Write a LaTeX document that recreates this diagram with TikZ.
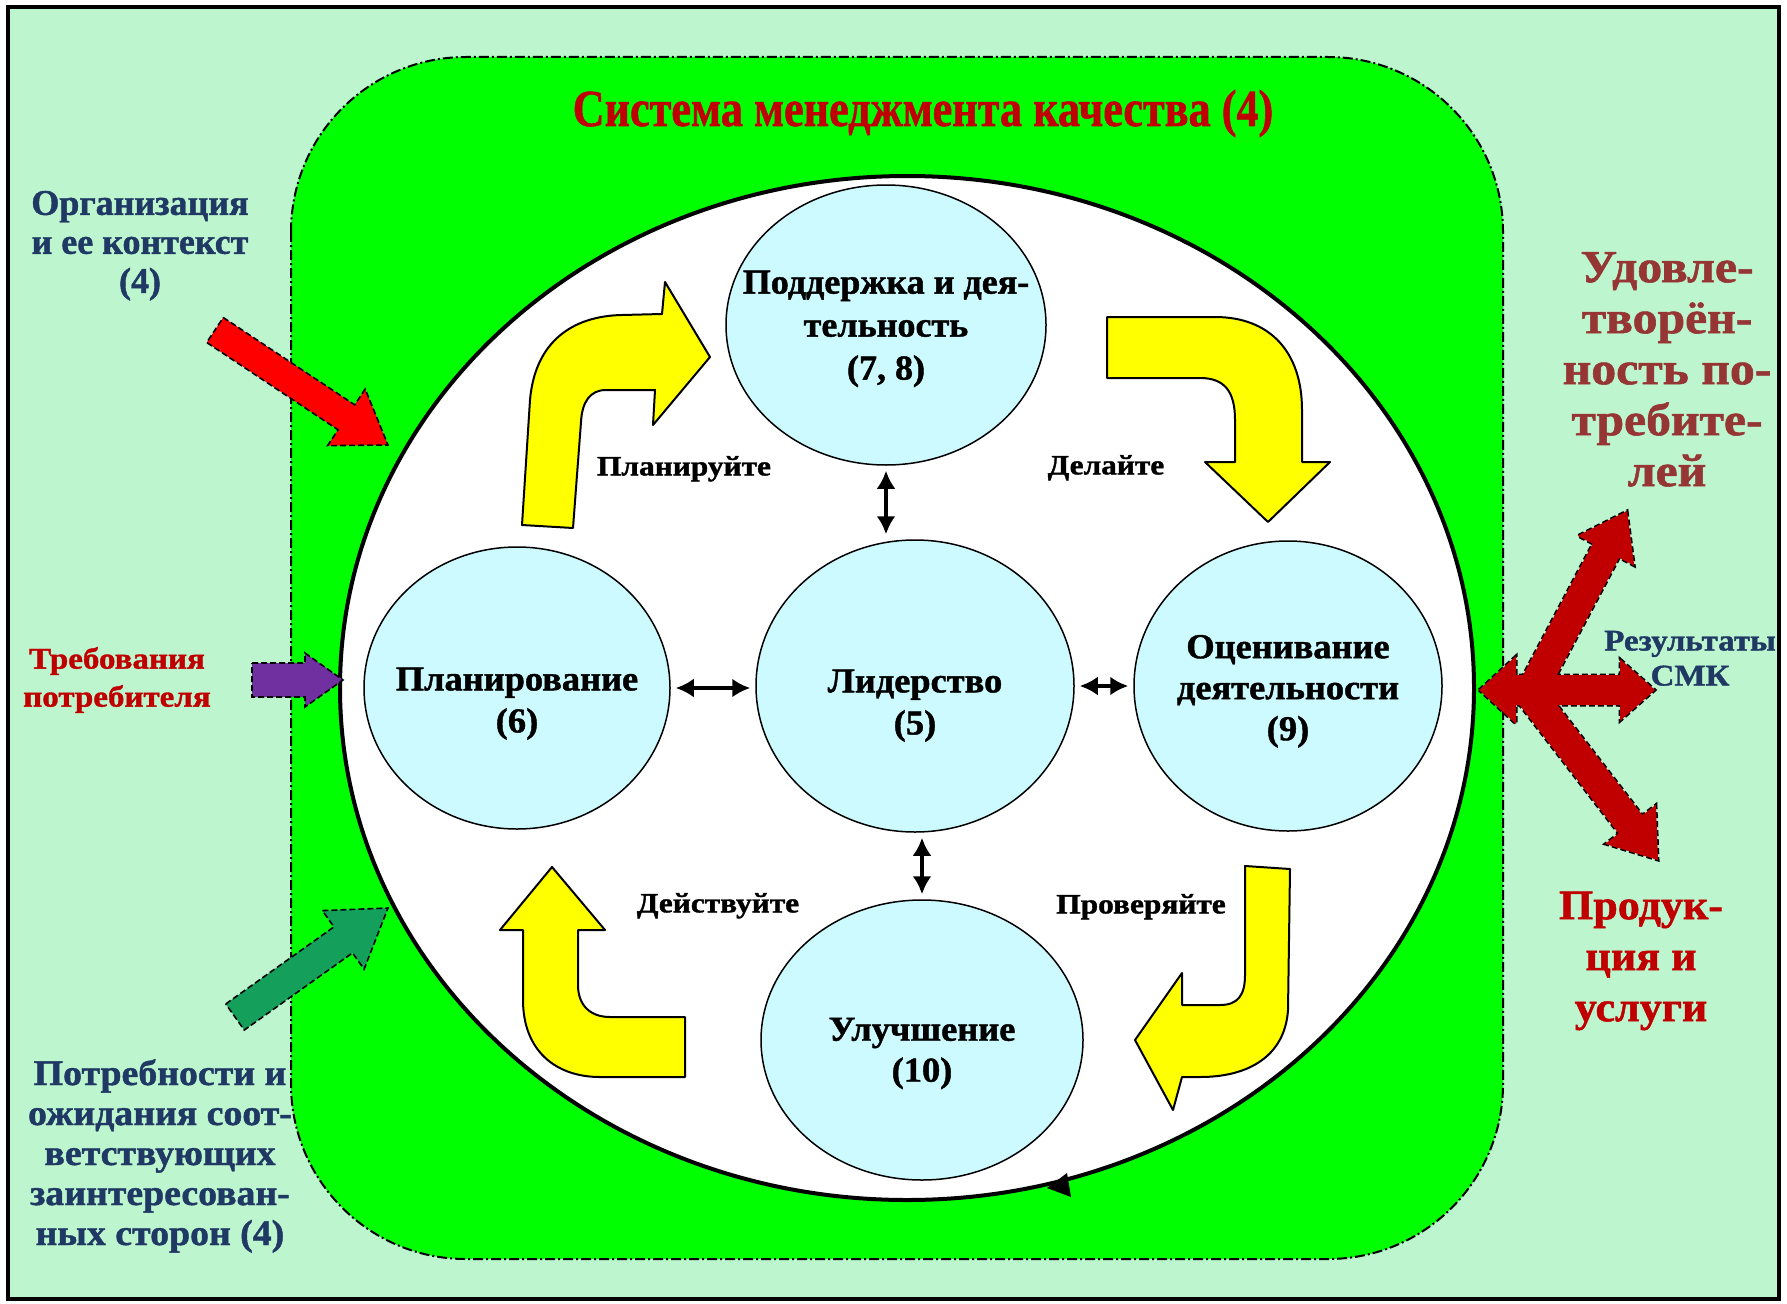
\documentclass[tikz,border=0pt]{standalone}
\usepackage{fontspec}
\setmainfont{Liberation Serif}[BoldFeatures={FakeBold=1.2}]
\usetikzlibrary{arrows.meta,shapes.geometric,calc}
\definecolor{bgmint}{RGB}{189,245,206}
\definecolor{brightgreen}{RGB}{0,255,0}
\definecolor{cyanc}{RGB}{204,250,255}
\definecolor{yel}{RGB}{255,255,0}
\definecolor{navy}{RGB}{31,56,100}
\definecolor{darkred}{RGB}{192,0,0}
\definecolor{brownred}{RGB}{150,54,52}
\definecolor{purp}{RGB}{112,48,160}
\definecolor{arrgreen}{RGB}{20,160,90}
\definecolor{arrred}{RGB}{255,0,0}
\definecolor{arrdark}{RGB}{192,0,0}
\newcommand\tblock[4]{\scalebox{#1}[1]{\fontsize{#2}{#3}\selectfont\bfseries\begin{tabular}{@{}c@{}}#4\end{tabular}}}
\newcommand\blkarrow[6]{%
  \coordinate (ba-b) at ($(#3)!#6!(#2)$);
  \coordinate (ba-t1) at ($(#2)!#4!90:(#3)$);
  \coordinate (ba-t2) at ($(#2)!#4!-90:(#3)$);
  \coordinate (ba-s1) at ($(ba-b)!#4!90:(#3)$);
  \coordinate (ba-s2) at ($(ba-b)!#4!-90:(#3)$);
  \coordinate (ba-h1) at ($(ba-b)!#5!90:(#3)$);
  \coordinate (ba-h2) at ($(ba-b)!#5!-90:(#3)$);
  \path[#1] (ba-t1) -- (ba-s1) -- (ba-h1) -- (#3) -- (ba-h2) -- (ba-s2) -- (ba-t2) -- cycle;
}
\begin{document}
\begin{tikzpicture}[x=1pt,y=-1pt,
  txt/.style={inner sep=0pt, align=center},
  circ/.style={ellipse, draw=black, line width=1.5pt, fill=cyanc, inner sep=0pt},
  yarrow/.style={draw=black, line width=2pt, fill=yel, line join=round},
  dbl/.style={line width=4pt, {Latex[length=18pt,width=19pt]}-{Latex[length=18pt,width=19pt]}, shorten >=5pt, shorten <=5pt},
  blkline/.style={draw=black, line width=1.6pt, dash pattern=on 6pt off 3pt},
]
\useasboundingbox (0,0) rectangle (1787,1303);
\fill[white] (0,0) rectangle (1787,1303);
\draw[line width=4pt, fill=bgmint] (8,7) rectangle (1779,1299);
\draw[fill=brightgreen, line width=2pt, dash pattern=on 10pt off 3pt on 2pt off 3pt, rounded corners=175pt] (291,57) rectangle (1503,1259);

% big white ellipse
\node[ellipse, draw=black, line width=4pt, fill=white, minimum width=1134pt, minimum height=1024pt, inner sep=0pt] (big) at (907,688) {};
\fill[black] (1047,1188) -- (1067,1173) -- (1071,1197) -- cycle;

% title
\node[txt, text=darkred] (title) at (923,114) {\tblock{0.85}{52}{60}{Система менеджмента качества (4)}};

% circles
\node[circ, minimum width=320pt, minimum height=280pt] (sup) at (886,325) {};
\node[circ, minimum width=306pt, minimum height=282pt] (plan) at (517,688) {};
\node[circ, minimum width=318pt, minimum height=292pt] (lead) at (915,686) {};
\node[circ, minimum width=308pt, minimum height=290pt] (eval) at (1288,686) {};
\node[circ, minimum width=322pt, minimum height=280pt] (impr) at (922,1040) {};

\node[txt] (supT) at ($(sup.center)+(0,3)$) {\tblock{1.03}{35}{43}{Поддержка и дея-\\тельность\\(7, 8)}};
\node[txt] (planT) at ($(plan.center)+(0,15)$) {\tblock{1.04}{35}{42}{Планирование\\(6)}};
\node[txt] (leadT) at ($(lead.center)+(0,19)$) {\tblock{1.04}{35}{42}{Лидерство\\(5)}};
\node[txt] (evalT) at ($(eval.center)+(0,5)$) {\tblock{1.04}{35}{41}{Оценивание\\деятельности\\(9)}};
\node[txt] (imprT) at ($(impr.center)+(0,13)$) {\tblock{1.04}{35}{41}{Улучшение\\(10)}};

% double arrows
\draw[dbl] (sup.south) -- (sup.south |- lead.north);
\draw[dbl] (plan.east) -- (plan.east -| lead.west);
\draw[dbl] (lead.east) -- (lead.east -| eval.west);
\draw[dbl] (impr.north |- lead.south) -- (impr.north);

% yellow bent arrows
\path[yarrow] (522,525) -- (530,400) .. controls (535,342) and (572,316) .. (622,315) -- (662,314) -- (665,282) -- (710,357) -- (653,425) -- (655,390) -- (606,390) .. controls (590,390) and (582,402) .. (581,422) -- (573,528) -- cycle;
\path[yarrow] (1107,317) -- (1215,317) .. controls (1270,317) and (1302,352) .. (1302,410) -- (1302,462) -- (1330,462) -- (1268,522) -- (1205,462) -- (1235,462) -- (1235,420) .. controls (1235,392) and (1225,378) .. (1200,378) -- (1107,378) -- cycle;
\path[yarrow] (1245,866) -- (1290,869) -- (1288,1010) .. controls (1285,1055) and (1250,1077) .. (1200,1077) -- (1182,1077) -- (1173,1110) -- (1135,1040) -- (1182,973) -- (1182,1005) -- (1220,1005) .. controls (1238,1005) and (1245,995) .. (1245,975) -- cycle;
\path[yarrow] (552,867) -- (605,930) -- (578,930) -- (578,985) .. controls (578,1005) and (590,1017) .. (610,1017) -- (685,1017) -- (685,1077) -- (600,1077) .. controls (555,1077) and (523,1050) .. (523,1000) -- (523,930) -- (500,930) -- cycle;

% cycle labels
\node[txt] (lblP) at (684,469) {\tblock{1.12}{28}{32}{Планируйте}};
\node[txt] (lblD) at (1106,468) {\tblock{1.12}{28}{32}{Делайте}};
\node[txt] (lblA) at (718,906) {\tblock{1.12}{28}{32}{Действуйте}};
\node[txt] (lblC) at (1141,907) {\tblock{1.12}{28}{32}{Проверяйте}};

% input arrows
\coordinate (orgTail) at (215,330); \coordinate (orgTip) at (388,445);
\blkarrow{blkline, fill=arrred}{orgTail}{orgTip}{15pt}{34pt}{50pt}
\coordinate (reqTail) at (252,680); \coordinate (reqTip) at (343,680);
\blkarrow{blkline, fill=purp}{reqTail}{reqTip}{17pt}{27pt}{38pt}
\coordinate (needTail) at (235,1017); \coordinate (needTip) at (388,908);
\blkarrow{blkline, fill=arrgreen}{needTail}{needTip}{16pt}{36pt}{55pt}

% output arrows
\coordinate (resJ) at (1530,694); \coordinate (satTip) at (1627,511); \coordinate (prodTip) at (1658,860);
\path[blkline, line width=3pt] (1479,690) -- (1516,656) -- (1516,675) -- (1620,675) -- (1620,659) -- (1655,690) -- (1620,721) -- (1620,705) -- (1516,705) -- (1516,724) -- cycle;
\blkarrow{blkline, line width=3pt}{resJ}{satTip}{15pt}{32pt}{45pt}
\blkarrow{blkline, line width=3pt}{resJ}{prodTip}{15pt}{32pt}{45pt}
\fill[arrdark] (1479,690) -- (1516,656) -- (1516,675) -- (1620,675) -- (1620,659) -- (1655,690) -- (1620,721) -- (1620,705) -- (1516,705) -- (1516,724) -- cycle;
\blkarrow{fill=arrdark}{resJ}{satTip}{15pt}{32pt}{45pt}
\blkarrow{fill=arrdark}{resJ}{prodTip}{15pt}{32pt}{45pt}

% outside texts
\node[txt, text=navy] (org) at (140,246) {\tblock{1.0}{36}{39}{Организация\\и ее контекст\\(4)}};
\node[txt, text=darkred] (req) at (117,680) {\tblock{1.1}{30}{38}{Требования\\потребителя}};
\node[txt, text=navy] (needs) at (160,1157) {\tblock{1.05}{36}{40}{Потребности и\\ожидания соот-\\ветствующих\\заинтересован-\\ных сторон (4)}};
\node[txt, text=brownred] (sat) at (1667,374) {\tblock{1.08}{46}{51}{Удовле-\\творён-\\ность по-\\требите-\\лей}};
\node[txt, text=navy] (res) at (1690,661) {\tblock{1.1}{30}{35}{Результаты\\СМК}};
\node[txt, text=darkred] (prod) at (1641,960) {\tblock{1.05}{42}{51}{Продук-\\ция и\\услуги}};
\end{tikzpicture}
\end{document}
